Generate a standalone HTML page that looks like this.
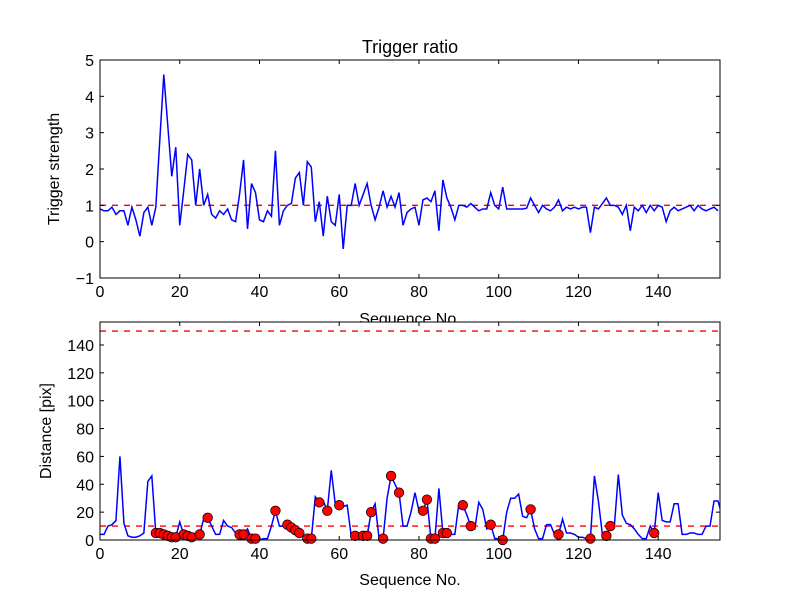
<!DOCTYPE html>
<html><head><meta charset="utf-8"><style>
body{margin:0;background:#fff}
svg text{font-family:"Liberation Sans","DejaVu Sans",sans-serif;fill:#000}
</style></head><body>
<svg id="chart" width="800" height="600" xmlns="http://www.w3.org/2000/svg">
<rect width="800" height="600" fill="#fff"/>
</svg>
<script>
const ratioValues=[0.9,0.85,0.85,0.95,0.75,0.85,0.85,0.45,0.95,0.6,0.15,0.8,0.95,0.45,0.95,2.8,4.6,3.2,1.8,2.6,0.45,1.4,2.4,2.25,1.0,2.0,1.0,1.3,0.75,0.65,0.85,0.75,0.9,0.6,0.55,1.3,2.25,0.35,1.6,1.35,0.6,0.55,0.85,0.7,2.5,0.45,0.85,1.0,1.05,1.75,1.9,1.0,2.2,2.05,0.55,1.1,0.15,1.25,0.55,0.45,1.3,-0.2,1.0,1.0,1.6,1.0,1.3,1.6,1.0,0.6,0.95,1.4,0.95,1.25,0.95,1.35,0.45,0.8,0.9,0.95,0.45,1.15,1.2,1.1,1.4,0.3,1.7,1.2,0.95,0.6,1.0,1.0,0.95,1.05,0.95,0.85,0.9,0.9,1.35,1.0,0.9,1.5,0.9,0.9,0.9,0.9,0.9,0.92,1.2,1.0,0.8,1.0,0.9,0.85,0.95,1.15,0.85,0.95,0.9,0.95,0.9,0.95,0.95,0.25,0.95,0.9,1.05,1.2,1.0,1.0,0.95,0.75,1.0,0.3,0.95,0.85,1.0,0.8,1.0,0.85,1.0,0.95,0.55,0.85,0.95,0.85,0.9,0.95,1.0,0.85,1.0,0.9,0.85,0.9,0.95,0.85];
const distValues=[4,4,10,11,14,60,12,3,2,2,3,5,42,46,5,5,4,3,2,2,13,4,3,2,1,4,15,16,10,4,4,14,10,9,5,4,4,8,1,1,0,1,1,10,21,10,10,11,9,7,5,2,1,1,31,27,28,21,50,26,25,24,25,3,3,3,3,3,20,26,1,1,30,46,40,34,10,10,20,34,21,21,29,1,1,37,5,5,4,4,26,25,18,10,8,27,22,8,11,1,1,0,20,30,30,33,17,16,22,8,1,1,11,11,4,4,15,5,5,4,2,2,1,1,46,28,4,3,10,10,47,18,12,11,8,4,1,1,10,5,34,14,13,13,26,26,4,4,5,5,4,4,10,10,28,28,18];
const markerIdx=[14,15,16,17,18,19,21,22,23,25,27,35,36,38,39,44,47,48,49,50,52,53,55,57,60,64,66,67,68,71,73,75,81,82,83,84,86,87,91,93,98,101,108,115,123,127,128,139];
const xTicks=[0,20,40,60,80,100,120,140];
const topYTicks=[-1,0,1,2,3,4,5];
const botYTicks=[0,20,40,60,80,100,120,140];
const ratioThreshold=[1];
const distThresholds=[10,150];

const NS="http://www.w3.org/2000/svg";
const svg=document.getElementById('chart');
const L=100,R=720,XMAX=155.5;
const x=v=>L+v/XMAX*(R-L);
const T1=60,B1=278,yTop=v=>B1-(v+1)/6*(B1-T1);
const T2=322,B2=540,yBot=v=>B2-v/156.5*(B2-T2);
function el(tag,attrs,parent){const e=document.createElementNS(NS,tag);for(const k in attrs)e.setAttribute(k,attrs[k]);(parent||svg).appendChild(e);return e;}

function axes(T,B,yf,yt,name,ylabel,ycx){
  const g=el('g',{});
  
  
  xTicks.forEach(t=>{
    const xx=x(t);
    el('line',{x1:xx,x2:xx,y1:B,y2:B-4,stroke:'#000'},g);
    el('line',{x1:xx,x2:xx,y1:T,y2:T+4,stroke:'#000'},g);
    const tx=el('text',{x:xx,y:B+19,'font-size':16,'text-anchor':'middle'},g);
    tx.textContent=t;
    
    
  });
  yt.forEach(t=>{
    const yy=yf(t);
    el('line',{x1:L,x2:L+4,y1:yy,y2:yy,stroke:'#000'},g);
    el('line',{x1:R,x2:R-4,y1:yy,y2:yy,stroke:'#000'},g);
    const tx=el('text',{x:L-6,y:yy+6,'font-size':16,'text-anchor':'end'},g);
    tx.textContent=(t<0?'\u2212'+(-t):t);
    
    
  });
  const yl=el('text',{x:ycx,y:(T+B)/2,'font-size':16,'text-anchor':'middle',transform:`rotate(-90 ${ycx} ${(T+B)/2})`},g);
  yl.textContent=ylabel;
  
  
  return g;
}
function frame(T,B){
  const f=el('rect',{x:L,y:T,width:R-L,height:B-T,fill:'none',stroke:'#000','stroke-width':1});
  
  
}
function line(vals,yf,T,B,name){
  const cp='cp'+name;
  const c=el('clipPath',{id:cp});el('rect',{x:L,y:T,width:R-L,height:B-T},c);
  const p=el('polyline',{points:vals.map((v,i)=>x(i)+','+yf(v)).join(' '),fill:'none',stroke:'#0000ff','stroke-width':1.5,'clip-path':`url(#${cp})`});
  
  
}
function hline(v,yf,name){
  const h=el('line',{x1:L,x2:R,y1:yf(v),y2:yf(v),stroke:'#ff0000','stroke-width':1.3,'stroke-dasharray':'6,6'});
  
  
}

// top
ratioThreshold.forEach(v=>hline(v,yTop,'ratio-threshold-line'));
line(ratioValues,yTop,T1,B1,'trigger-ratio-line');
frame(T1,B1);
axes(T1,B1,yTop,topYTicks,'top-axes','Trigger strength',59);
const title=el('text',{x:410,y:53,'font-size':18,'text-anchor':'middle'});
title.textContent='Trigger ratio';


const xl1=el('text',{x:410,y:324,'font-size':16,'text-anchor':'middle'});
xl1.textContent='Sequence No.';


el('rect',{x:L,y:T2,width:R-L,height:B2-T2,fill:'#fff'});

// bottom
distThresholds.forEach(v=>hline(v,yBot,'distance-threshold-line'));
line(distValues,yBot,T2,B2,'distance-line');
markerIdx.forEach(i=>{
  const c=el('circle',{cx:x(i),cy:yBot(distValues[i]),r:4.8,fill:'#ff0000',stroke:'#000','stroke-width':0.7});
  
  
});
frame(T2,B2);
axes(T2,B2,yBot,botYTicks,'bottom-axes','Distance [pix]',51);
const xl2=el('text',{x:410,y:585,'font-size':16,'text-anchor':'middle'});
xl2.textContent='Sequence No.';


</script>
</body></html>
